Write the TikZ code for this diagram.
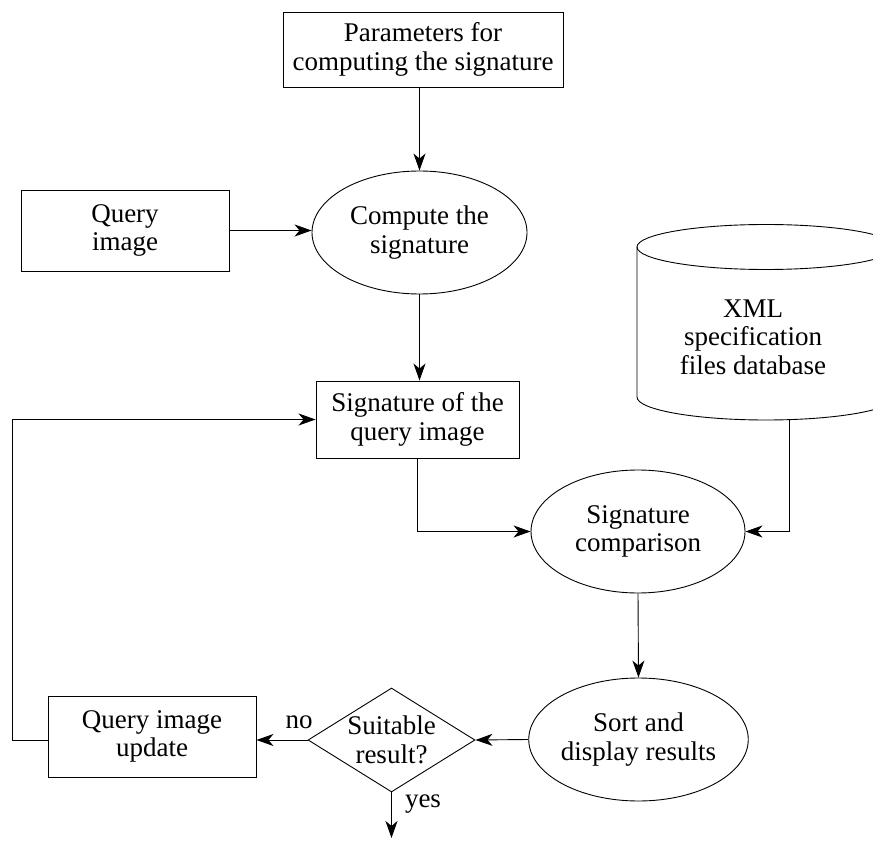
\documentclass[tikz,border=0pt]{standalone}
\usepackage{fontspec}
\setmainfont{Liberation Serif}
\usetikzlibrary{arrows.meta,shapes.geometric}
\begin{document}
\begin{tikzpicture}[x=1pt,y=-1pt,
  line width=0.9pt,
  txt/.style={font=\fontsize{27}{28.5}\selectfont, align=center},
  box/.style={txt, draw, rectangle, inner sep=0pt},
  oval/.style={txt, draw, ellipse, inner sep=0pt},
  arr/.style={-{Stealth[length=17pt,width=12pt,inset=5pt]}}]
\useasboundingbox (0,0) rectangle (873,842);
% nodes
\node[box, minimum width=280, minimum height=75] (params) at (423,49.5) {Parameters for\\computing the signature};
\node[box, minimum width=208, minimum height=81] (query) at (125,230.5) {Query\\image};
\node[oval, minimum width=215, minimum height=123] (compute) at (419.5,232.5) {Compute the\\signature};
\node[box, minimum width=203, minimum height=77] (sig) at (417.5,419.5) {Signature of the\\query image};
\node[oval, minimum width=214, minimum height=123] (comp) at (638,531.5) {Signature\\comparison};
\node[oval, minimum width=215, minimum height=123] (sort) at (638.5,739.5) {Sort and\\display results};
\node[draw, diamond, minimum width=167, minimum height=104, inner sep=0pt] (dec) at (391.5,740) {};
\node[txt] (dectext) at (391.5,740) {Suitable\\result?};
\node[box, minimum width=208, minimum height=81] (update) at (152,736.5) {Query image\\update};
% database cylinder
\draw (637,247) -- (637,397) arc[start angle=180, end angle=0, x radius=129, y radius=23] -- (895,247);
\draw (766,247) ellipse[x radius=129, y radius=22.5];
\node[txt] (db) at (753,337) {XML\\specification\\files database};
\coordinate (dbb) at (789,419.5);
% labels
\node[txt] (no) at (299,722) {no};
\node[txt] (yes) at (423,804) {yes};
\coordinate (lp) at (12.5,0);
\coordinate (out) at (391.5,838);
% connectors
\draw[arr] (params.south -| compute.north) -- (compute.north);
\draw[arr] (query.east) -- (query.east -| compute.west);
\draw[arr] (compute.south) -- (compute.south |- sig.north);
\draw[arr] (sig.south) |- (comp.west);
\draw[arr] (dbb) |- (comp.east);
\draw[arr] (comp.south) -- (sort.north);
\draw[arr] (sort.west) -- (dec.east);
\draw[arr] (dec.west) -- (dec.west -| update.east);
\draw[arr] (update.west |- dec.west) -- (lp |- dec.west) -- (lp |- sig.west) -- (sig.west);
\draw[arr] (dec.south) -- (out);
\end{tikzpicture}
\end{document}
